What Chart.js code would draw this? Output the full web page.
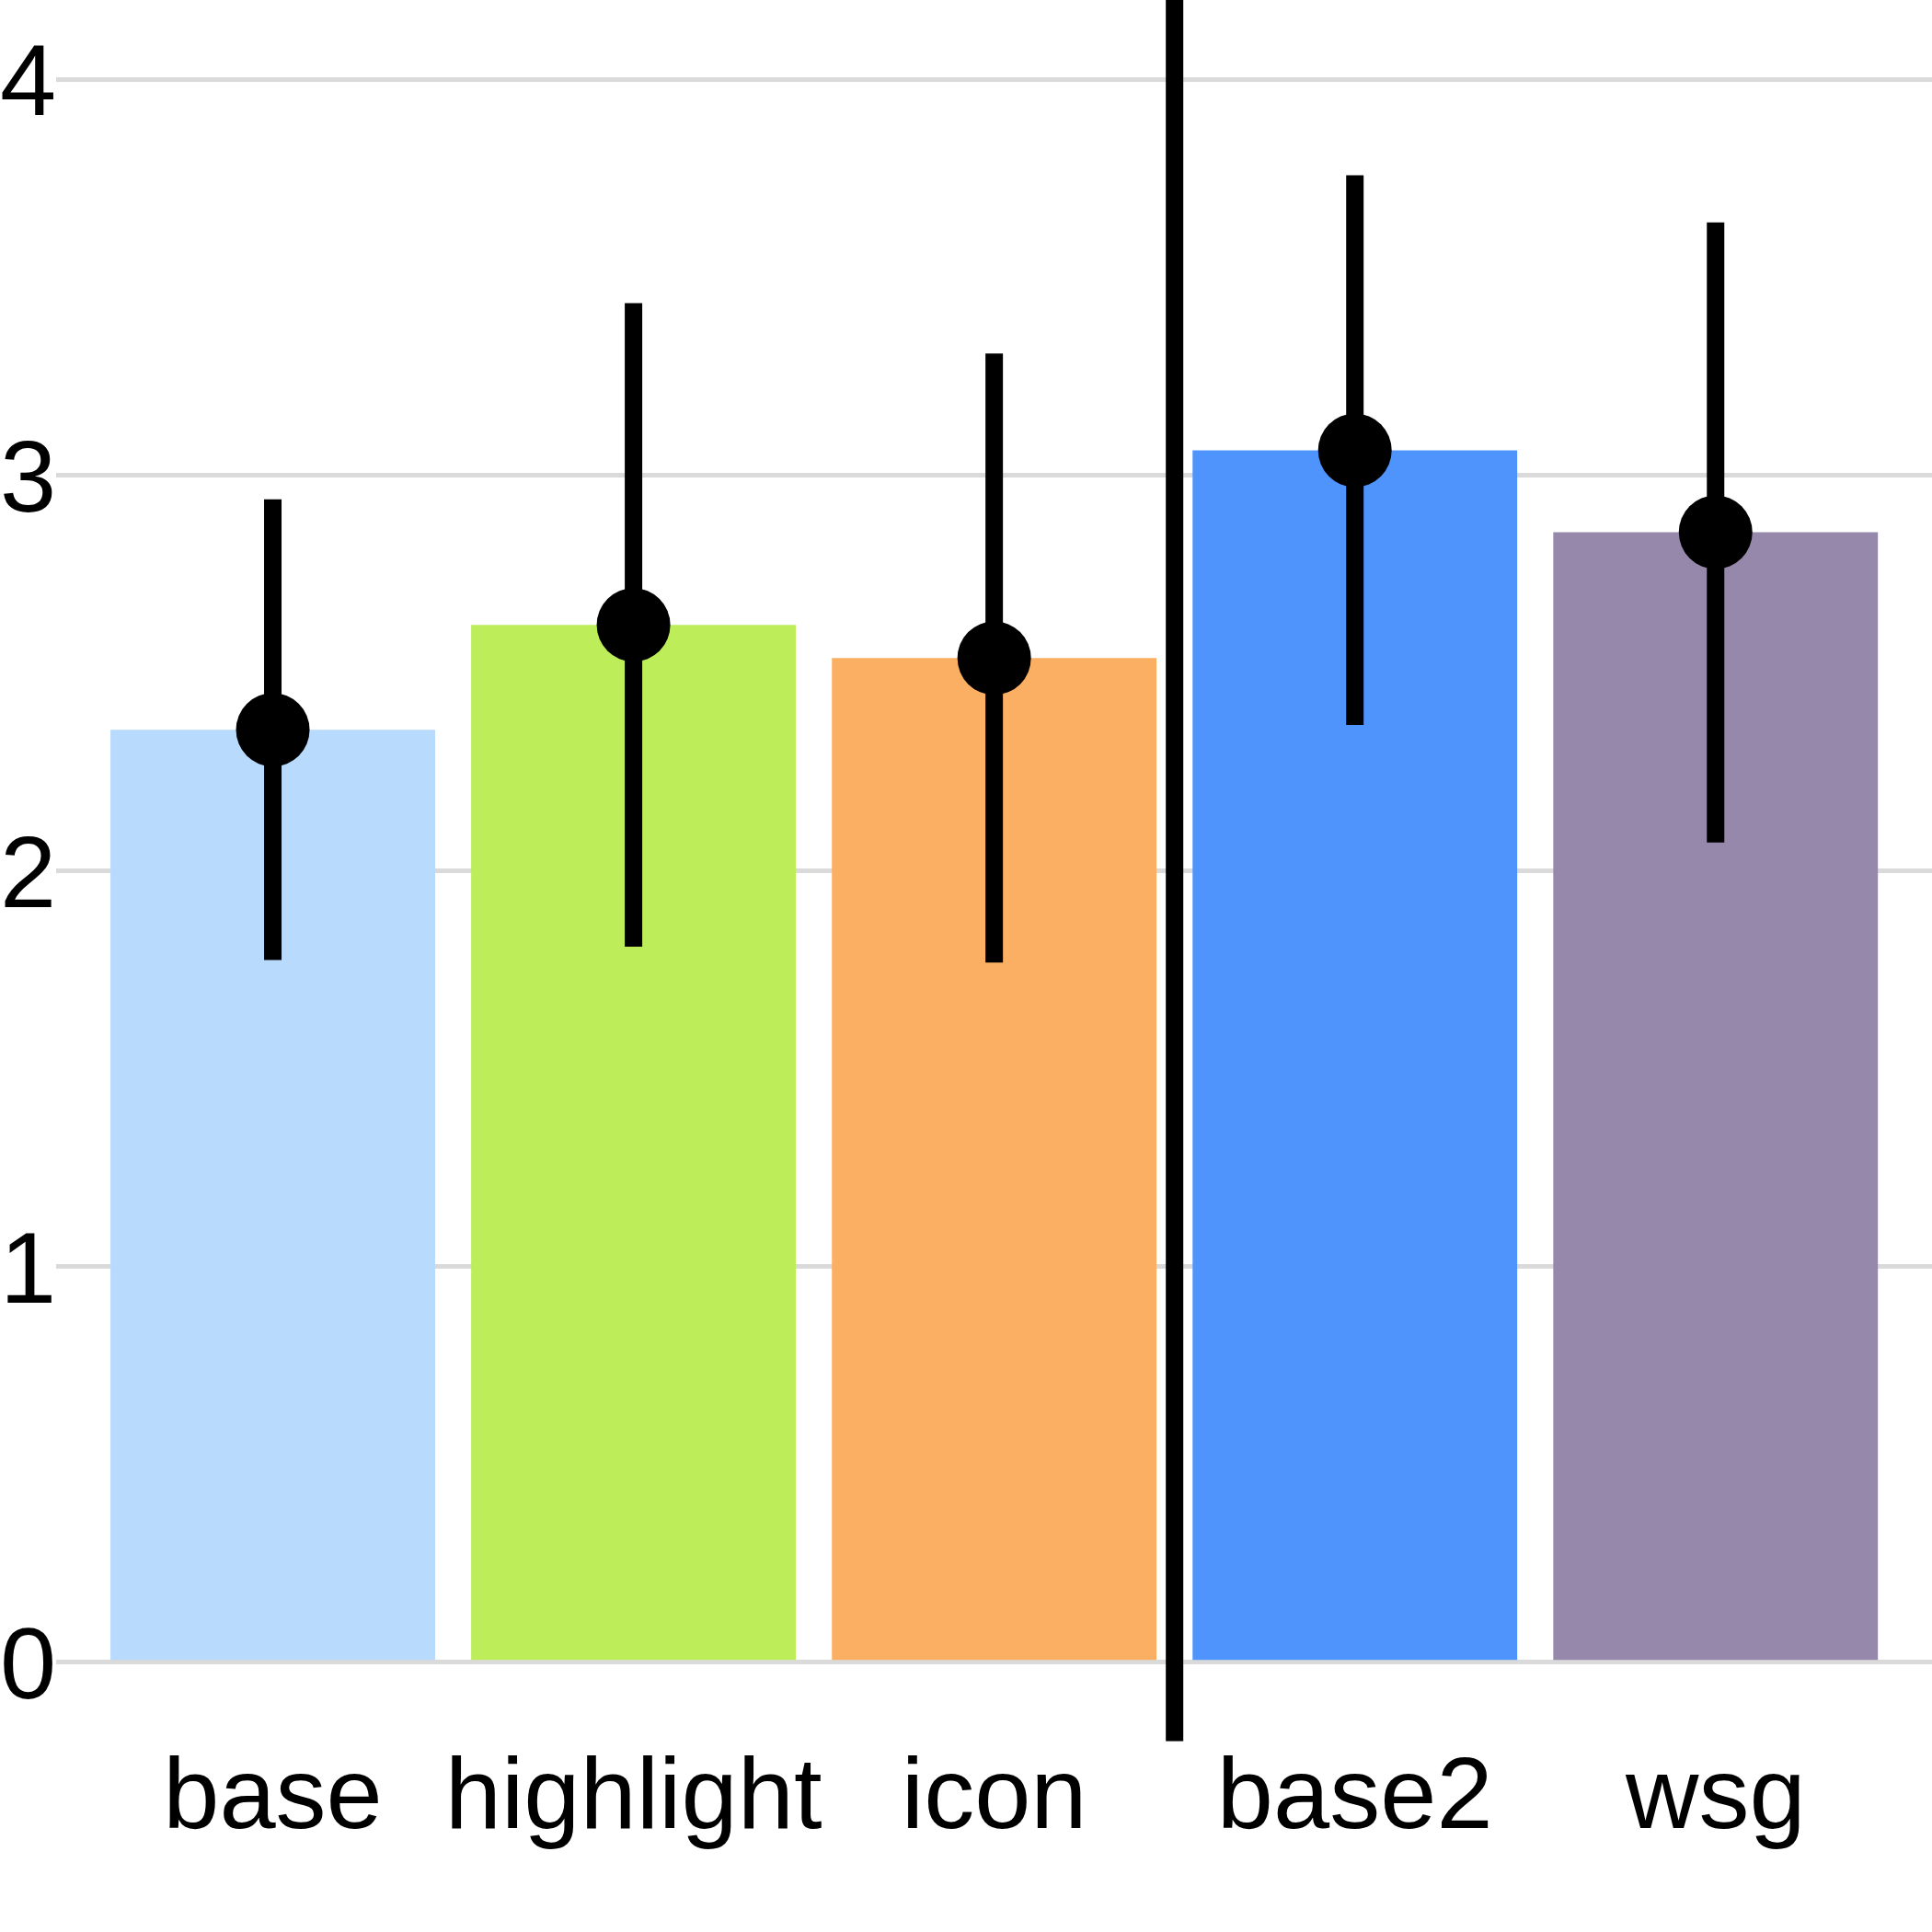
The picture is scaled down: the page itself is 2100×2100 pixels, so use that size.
<!DOCTYPE html>
<html><head><meta charset="utf-8">
<script src="https://cdn.jsdelivr.net/npm/chart.js@4.4.1/dist/chart.umd.min.js"></script>
<style>html,body{margin:0;padding:0;background:#fff}canvas{display:block}</style>
</head><body>
<canvas id="c" width="2100" height="2100"></canvas>
<script>
const categories = ['base', 'highlight', 'icon', 'base2', 'wsg'];
const means = [2.356, 2.621, 2.537, 3.062, 2.855];
const lower = [1.774, 1.808, 1.768, 2.368, 2.071];
const upper = [2.938, 3.434, 3.307, 3.757, 3.638];
const barColors = ['#B8DAFD', '#BDED58', '#FBAF62', '#4F94FD', '#9688AA'];
const yTicks = [0, 1, 2, 3, 4];
const yRange = [-0.2, 4.2];
const xRange = [0.4, 5.6];
const separatorAt = 3.5;

const positions = categories.map((_, i) => i + 1);
const FONT = '"Liberation Sans", Arial, Helvetica, sans-serif';

const barData = positions.map((x, i) => ({ x, y: means[i] }));
const errData = positions.map((x, i) => ({ x, y: [lower[i], upper[i]] }));
const pointData = positions.map((x, i) => ({ x, y: means[i] }));
const sepData = [{ x: separatorAt, y: yRange[0] }, { x: separatorAt, y: yRange[1] }];

function noPad(s) {
  s.paddingTop = 0; s.paddingBottom = 0; s.paddingLeft = 0; s.paddingRight = 0;
}

new Chart(document.getElementById('c'), {
  type: 'bar',
  data: {
    datasets: [
      {
        type: 'line', data: pointData, showLine: false,
        pointRadius: 40, pointHoverRadius: 40, pointBackgroundColor: '#000',
        pointBorderWidth: 0, borderWidth: 0, order: 0
      },
      {
        type: 'bar', data: errData, backgroundColor: '#000', borderWidth: 0,
        grouped: false, maxBarThickness: 19, order: 1
      },
      {
        type: 'line', data: sepData, borderColor: '#000', borderWidth: 19,
        pointRadius: 0, borderCapStyle: 'butt', order: 2
      },
      {
        type: 'bar', data: barData, backgroundColor: barColors, borderWidth: 0,
        grouped: false, barPercentage: 0.9, categoryPercentage: 1.0, order: 3
      }
    ]
  },
  options: {
    responsive: false,
    devicePixelRatio: 1,
    animation: false,
    layout: { padding: 0, autoPadding: false },
    plugins: { legend: { display: false }, tooltip: { enabled: false } },
    scales: {
      x: {
        type: 'linear', min: xRange[0], max: xRange[1], offset: false,
        grid: { display: false, drawTicks: false, offset: false },
        border: { display: false },
        afterBuildTicks: s => { s.ticks = positions.map(v => ({ value: v })); },
        afterFit: s => { s.height = 207.3; noPad(s); },
        ticks: {
          autoSkip: false, maxRotation: 0, minRotation: 0, padding: 9,
          color: '#000', font: { family: FONT, size: 110, lineHeight: 1.0 },
          callback: v => categories[v - 1]
        }
      },
      y: {
        type: 'linear', min: yRange[0], max: yRange[1],
        grid: { color: '#DADADA', lineWidth: 5, drawTicks: false },
        border: { display: false },
        afterBuildTicks: s => { s.ticks = yTicks.map(v => ({ value: v })); },
        afterFit: s => { s.width = 61.3; noPad(s); },
        ticks: {
          padding: 0, color: '#000', labelOffset: 9,
          font: { family: FONT, size: 110, lineHeight: 1.0 },
          callback: v => String(v)
        }
      }
    }
  }
});
</script>
</body></html>
